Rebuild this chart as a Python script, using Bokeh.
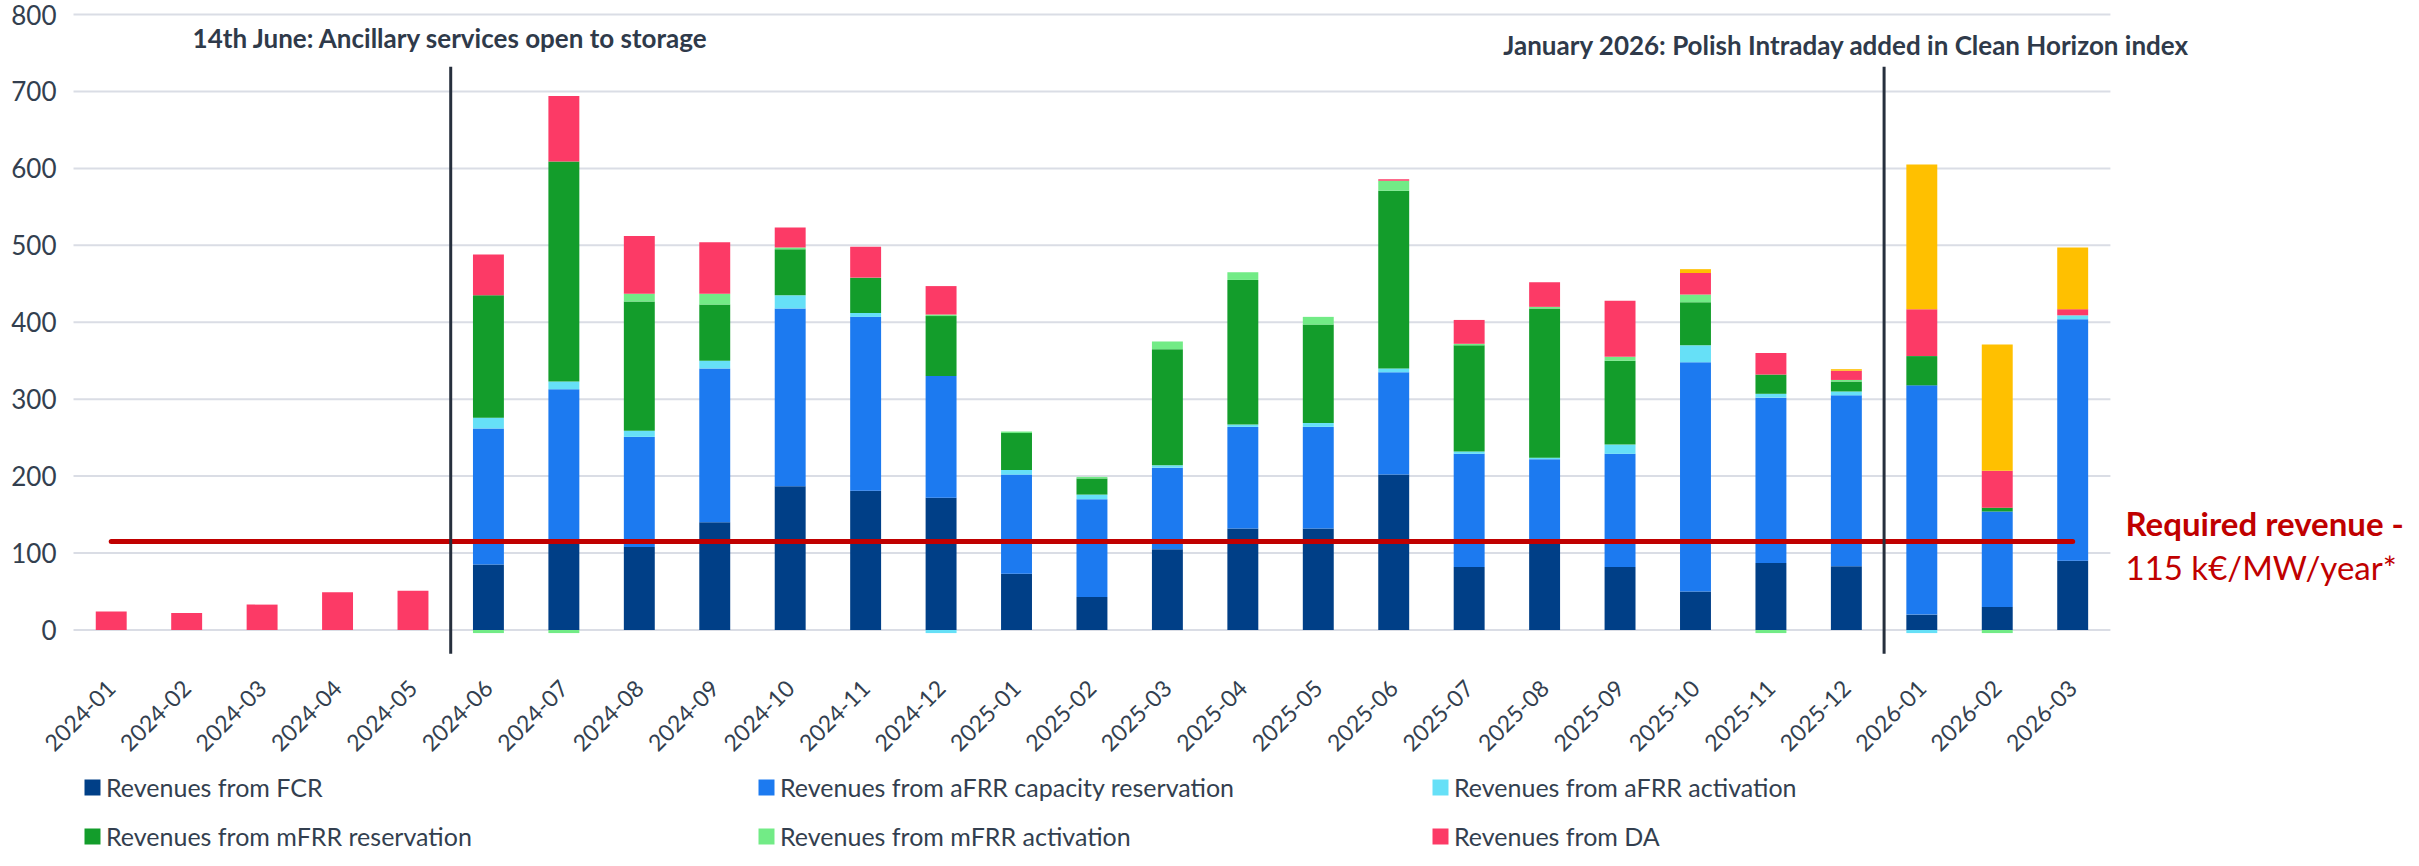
import math
from bokeh.plotting import figure
from bokeh.models import (Range1d, FixedTicker, Legend, LegendItem, Label, LinearAxis)
from bokeh.embed import file_html
from bokeh.resources import INLINE

months = ["2024-01", "2024-02", "2024-03", "2024-04", "2024-05", "2024-06", "2024-07",
          "2024-08", "2024-09", "2024-10", "2024-11", "2024-12", "2025-01", "2025-02",
          "2025-03", "2025-04", "2025-05", "2025-06", "2025-07", "2025-08", "2025-09",
          "2025-10", "2025-11", "2025-12", "2026-01", "2026-02", "2026-03"]

fcr = [0, 0, 0, 0, 0, 85, 117, 108, 140, 187, 181, 172,
       73, 43, 105, 132, 132, 202, 82, 117, 82, 50, 87, 83, 20, 30, 90]
afrr_cap = [0, 0, 0, 0, 0, 177, 196, 143, 200, 231, 226, 158,
            129, 127, 106, 132, 132, 133, 147, 105, 147, 298, 215, 222, 298, 124, 314]
afrr_act = [0, 0, 0, 0, 0, 14, 10, 8, 10, 17, 5, -4,
            6, 6, 3, 3, 5, 5, 3, 2, 12, 22, 5, 5, -4, 0, 5]
mfrr_res = [0, 0, 0, 0, 0, 159, 286, 168, 73, 60, 46, 78,
            48, 21, 151, 188, 128, 231, 138, 194, 109, 56, 25, 13, 38, 5, 0]
mfrr_act = [0, 0, 0, 0, 0, -4, -4, 10, 14, 2, 0, 2,
            2, 2, 10, 10, 10, 13, 2, 2, 5, 10, -4, 2, 0, -4, 0]
da = [24, 22, 33, 49, 51, 53, 85, 75, 67, 26, 40, 37,
      0, 0, 0, 0, 0, 2, 31, 32, 73, 28, 28, 12, 61, 48, 8]
intraday = [0, 0, 0, 0, 0, 0, 0, 0, 0, 0, 0, 0,
            0, 0, 0, 0, 0, 0, 0, 0, 0, 5, 0, 2, 188, 164, 80]

series_names = ["Revenues from FCR", "Revenues from aFRR capacity reservation",
                "Revenues from aFRR activation", "Revenues from mFRR reservation",
                "Revenues from mFRR activation", "Revenues from DA", None]
series_values = [fcr, afrr_cap, afrr_act, mfrr_res, mfrr_act, da, intraday]
series_colors = ["#003F87", "#1C7AF0", "#66E0F7", "#139D2B", "#72EB86", "#FC3A66", "#FFC000"]

y_ticks = [0, 100, 200, 300, 400, 500, 600, 700, 800]
required_revenue = 115
events = [("2024-06", "14th June: Ancillary services open to storage"),
          ("2026-01", "January 2026: Polish Intraday added in Clean Horizon index")]

FONT = "Lato"
TXT = "#333F4F"

n = len(months)
xc = [i + 0.5 for i in range(n)]  # category centres on the linear x scale

p = figure(x_range=Range1d(-0.9677, 30.885), y_range=Range1d(-286.6, 818.2),
           width=2403, height=850, output_backend="svg", toolbar_location=None,
           x_axis_type=None, y_axis_type=None, min_border_left=0, min_border_right=0,
           min_border_top=0, min_border_bottom=0)
p.outline_line_color = None
p.background_fill_color = "white"
p.border_fill_color = "white"
p.xgrid.grid_line_color = None
p.ygrid.grid_line_color = None

# horizontal gridlines over the category span
p.segment(x0=[0] * len(y_ticks), x1=[n] * len(y_ticks), y0=y_ticks, y1=y_ticks,
          line_color="#DADDE5", line_width=2, level="underlay")

# stacking (positives up, negatives down)
pos_base = [0.0] * n
neg_base = [0.0] * n
legend_items = []
for name, vals, col in zip(series_names, series_values, series_colors):
    bottoms, tops = [], []
    for i, v in enumerate(vals):
        if v >= 0:
            bottoms.append(pos_base[i]); tops.append(pos_base[i] + v); pos_base[i] += v
        else:
            bottoms.append(neg_base[i] + v); tops.append(neg_base[i]); neg_base[i] += v
    r = p.vbar(x=xc, bottom=bottoms, top=tops, width=0.41, fill_color=col, line_color=None)
    if name:
        legend_items.append(LegendItem(label=name, renderers=[r]))

# required revenue line
p.line(x=[xc[0], xc[-1]], y=[required_revenue, required_revenue],
       line_color="#C00000", line_width=5, line_cap="round")

# event separators
for m, txt in events:
    xb = months.index(m)
    p.segment(x0=[xb], x1=[xb], y0=[-31], y1=[732], line_color="#262F3D", line_width=3)

p.add_layout(Label(x=months.index(events[0][0]), y=770, text=events[0][1],
                   text_font=FONT, text_font_style="bold", text_font_size="26px",
                   text_color="#2F3A4A", text_align="center", text_baseline="middle"))
p.add_layout(Label(x=23.5, y=761, text=events[1][1],
                   text_font=FONT, text_font_style="bold", text_font_size="26px",
                   text_color="#2F3A4A", text_align="center", text_baseline="middle"))

p.add_layout(Label(x=n + 0.2, y=139, text="Required revenue -",
                   text_font=FONT, text_font_style="bold", text_font_size="33px",
                   text_color="#C00000", text_align="left", text_baseline="middle"))
p.add_layout(Label(x=n + 0.2, y=82.5, text="115 k€/MW/year*",
                   text_font=FONT, text_font_size="33px",
                   text_color="#C00000", text_align="left", text_baseline="middle"))

# y axis drawn at the left edge of the category span
yaxis = LinearAxis(fixed_location=0, ticker=FixedTicker(ticks=y_ticks),
                   axis_line_color=None, major_tick_line_color=None, minor_tick_line_color=None,
                   major_tick_out=0, major_tick_in=0,
                   major_label_text_font=FONT, major_label_text_font_size="26px",
                   major_label_text_color=TXT, major_label_standoff=17)
p.add_layout(yaxis, "left")

# x axis (month labels) drawn just below the zero line
xaxis = LinearAxis(fixed_location=-52, ticker=FixedTicker(ticks=xc),
                   major_label_overrides={x: m for x, m in zip(xc, months)},
                   axis_line_color=None, major_tick_line_color=None, minor_tick_line_color=None,
                   major_tick_out=0, major_tick_in=0,
                   major_label_orientation=math.pi / 4, major_label_text_font=FONT,
                   major_label_text_font_size="23px", major_label_text_color=TXT,
                   major_label_standoff=14)
p.add_layout(xaxis, "below")

legend = Legend(items=legend_items, orientation="horizontal", ncols=3,
                label_text_font=FONT, label_text_font_size="25px", label_text_color=TXT,
                glyph_width=20, glyph_height=20, label_standoff=4, label_width=631,
                label_height=24, spacing=19, padding=0, margin=0,
                border_line_color=None, background_fill_alpha=0, location=(82, -1))
p.add_layout(legend, "center")

open("out.html", "w").write(file_html(p, INLINE))
